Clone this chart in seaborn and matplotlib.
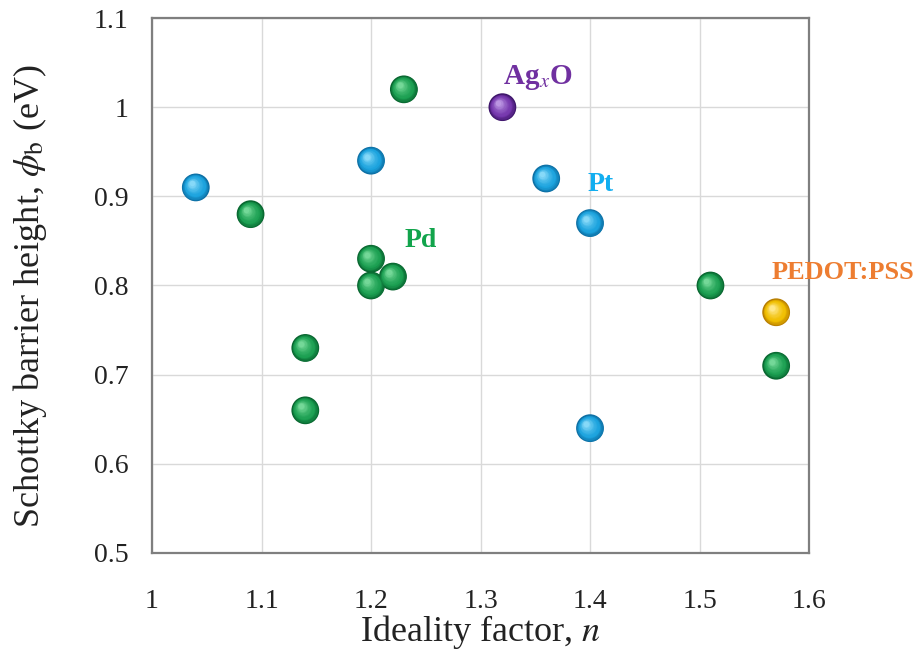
import numpy as np
import pandas as pd
import matplotlib
matplotlib.use("Agg")
import matplotlib.pyplot as plt
import matplotlib.transforms as mtransforms
from matplotlib.colors import to_rgb
import seaborn as sns

# ---- data ----
pt_n = [1.04, 1.20, 1.36, 1.40, 1.40]
pt_phi = [0.91, 0.94, 0.92, 0.87, 0.64]
pd_n = [1.09, 1.14, 1.14, 1.20, 1.20, 1.22, 1.23, 1.51, 1.57]
pd_phi = [0.88, 0.73, 0.66, 0.83, 0.80, 0.81, 1.02, 0.80, 0.71]
agxo_n = [1.32]
agxo_phi = [1.00]
pedot_n = [1.57]
pedot_phi = [0.77]

x_ticks = [1, 1.1, 1.2, 1.3, 1.4, 1.5, 1.6]
x_ticklabels = ["1", "1.1", "1.2", "1.3", "1.4", "1.5", "1.6"]
y_ticks = [0.5, 0.6, 0.7, 0.8, 0.9, 1.0, 1.1]
y_ticklabels = ["0.5", "0.6", "0.7", "0.8", "0.9", "1", "1.1"]

df = pd.DataFrame({
    "n": pt_n + pd_n + agxo_n + pedot_n,
    "phi": pt_phi + pd_phi + agxo_phi + pedot_phi,
    "metal": ["Pt"] * len(pt_n) + ["Pd"] * len(pd_n) + ["AgxO"] * len(agxo_n) + ["PEDOT:PSS"] * len(pedot_n),
})

# sphere colour ramps: (edge, mid, highlight)
ramps = {
    "Pt": ("#0c6ea3", "#1ca3de", "#86d9f8"),
    "Pd": ("#08652f", "#1ca052", "#74d898"),
    "AgxO": ("#3c1468", "#7537ad", "#bb95e2"),
    "PEDOT:PSS": ("#b67c00", "#f0be00", "#ffe88a"),
}
label_colors = {
    "Pt": "#12aef0",
    "Pd": "#12a44c",
    "AgxO": "#7030a0",
    "PEDOT:PSS": "#ed7d31",
}

sns.set_style("white")
plt.rcParams["font.family"] = ["Liberation Serif", "DejaVu Serif"]
plt.rcParams["mathtext.fontset"] = "stix"

fig = plt.figure(figsize=(9.21, 6.66), dpi=100)
ax = fig.add_axes([152 / 921, 1 - 553 / 666, (809 - 152) / 921, (553 - 18) / 666])

S = 400  # marker area (pt^2)
r = np.sqrt(S) / 2  # radius in points

palette_base = {k: v[0] for k, v in ramps.items()}
sns.scatterplot(data=df, x="n", y="phi", hue="metal", palette=palette_base,
                s=S, linewidth=0, legend=False, ax=ax, zorder=3)

def lerp(c1, c2, t):
    a, b = np.array(to_rgb(c1)), np.array(to_rgb(c2))
    return tuple(a + (b - a) * t)

N = 14
for metal, grp in df.groupby("metal"):
    edge, mid, hi = ramps[metal]
    for i in range(1, N):
        t = i / (N - 1)
        frac = 1 - 0.8 * t
        if t < 0.3:
            col = lerp(edge, mid, t / 0.3)
        else:
            col = lerp(mid, hi, ((t - 0.3) / 0.7) ** 1.5)
        off = mtransforms.offset_copy(ax.transData, fig=fig,
                                      x=-0.3 * r * t, y=0.3 * r * t, units="points")
        ax.scatter(grp["n"], grp["phi"], s=S * frac ** 2, color=col, linewidth=0,
                   transform=off, zorder=3 + i * 0.01)

ax.set_xlim(1, 1.6)
ax.set_ylim(0.5, 1.1)
ax.set_xticks(x_ticks)
ax.set_xticklabels(x_ticklabels)
ax.set_yticks(y_ticks)
ax.set_yticklabels(y_ticklabels)
ax.tick_params(axis="both", labelsize=20, length=0, colors="#222222")
ax.tick_params(axis="x", pad=26)
ax.tick_params(axis="y", pad=17)
ax.grid(True, color="#d9d9d9", linewidth=1.0)
ax.set_axisbelow(True)
for sp in ax.spines.values():
    sp.set_color("#7f7f7f")
    sp.set_linewidth(1.6)

ax.set_xlabel("Ideality factor, $\\it{n}$", fontsize=26, color="#222222")
ax.set_ylabel("Schottky barrier height, $\\it{\\phi}_{\\rm b}$ (eV)", fontsize=26, color="#222222")
ax.xaxis.set_label_coords(0.5, (553 - 632) / 535)
ax.xaxis.label.set_va("center")
ax.yaxis.set_label_coords((30 - 152) / 657, 0.48)
ax.yaxis.label.set_va("center")

ax.text(1.352, 1.033, "Ag$_{\\it{x}}$O", color=label_colors["AgxO"], fontsize=21,
        fontweight="bold", ha="center", va="center")
ax.text(1.410, 0.913, "Pt", color=label_colors["Pt"], fontsize=20,
        fontweight="bold", ha="center", va="center")
ax.text(1.245, 0.851, "Pd", color=label_colors["Pd"], fontsize=20,
        fontweight="bold", ha="center", va="center")
ax.text(1.631, 0.815, "PEDOT:PSS", color=label_colors["PEDOT:PSS"], fontsize=19,
        fontweight="bold", ha="center", va="center", clip_on=False)

fig.savefig("out.png", dpi=100)
